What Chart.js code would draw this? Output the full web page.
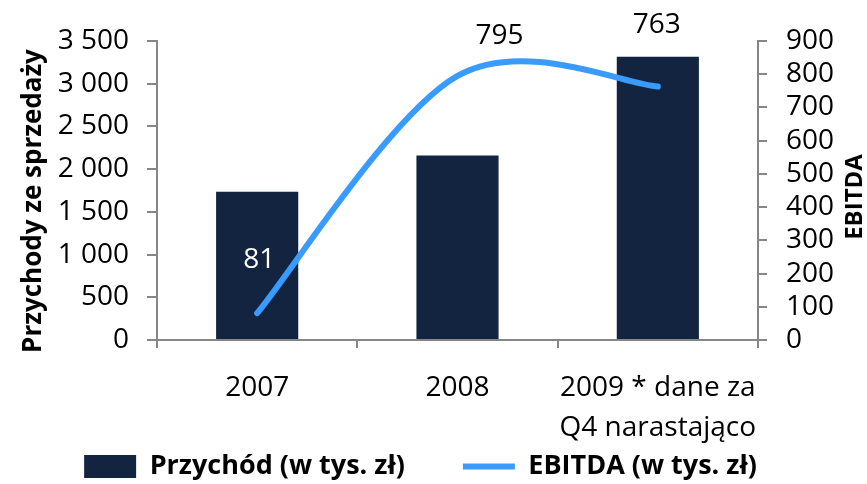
<!DOCTYPE html>
<html>
<head>
<meta charset="utf-8">
<script src="https://cdn.jsdelivr.net/npm/chart.js@4/dist/chart.umd.min.js"></script>
<style>
  html, body { margin: 0; background: #fff; }
  #wrap { width: 867px; height: 484px; }
</style>
</head>
<body>
<div id="wrap"><canvas id="c"></canvas></div>
<script>
const categories = ["2007", "2008", ["2009 * dane za", "Q4 narastająco"]];
const revenue = [1735, 2160, 3315];
const ebitda = [81, 795, 763];
const revenueTicks = [0, 500, 1000, 1500, 2000, 2500, 3000, 3500];
const ebitdaTicks = [0, 100, 200, 300, 400, 500, 600, 700, 800, 900];

const FONT = "'Open Sans', sans-serif";
const AXIS = "#868686";

function fmt(v) {
  return String(v).replace(/\B(?=(\d{3})+(?!\d))/g, " ");
}

// Excel-like smoothing: control points at +-(next - prev) / 6
const excelSmooth = {
  id: "excelSmooth",
  beforeDatasetDraw(chart, args) {
    const meta = args.meta;
    if (meta.type !== "line") return;
    meta.dataset.updateControlPoints(chart.chartArea, "x");
    const pts = meta.data;
    pts.forEach((p, i) => {
      const prev = pts[Math.max(i - 1, 0)];
      const next = pts[Math.min(i + 1, pts.length - 1)];
      const dx = (next.x - prev.x) / 6;
      const dy = (next.y - prev.y) / 6;
      p.cp1x = p.x - dx; p.cp1y = p.y - dy;
      p.cp2x = p.x + dx; p.cp2y = p.y + dy;
    });
    meta.dataset._path = undefined;
  }
};

// the two-line category label runs below the x scale box, so don't clip it
const xLabelRoom = {
  id: "xLabelRoom",
  afterLayout(chart) {
    chart.scales.x.bottom = chart.height;
  }
};

// value labels next to the EBITDA points, placed like in the original
const valueLabels = {
  id: "valueLabels",
  afterDatasetsDraw(chart) {
    const offsets = [[2, -53], [42, -40], [-1, -61]];
    const colors = ["#fff", "#000", "#000"];
    const meta = chart.getDatasetMeta(1);
    const ctx = chart.ctx;
    ctx.save();
    ctx.font = "28px " + FONT;
    ctx.textAlign = "center";
    ctx.textBaseline = "middle";
    meta.data.forEach((pt, i) => {
      ctx.fillStyle = colors[i];
      ctx.fillText(String(ebitda[i]), pt.x + offsets[i][0], pt.y + offsets[i][1]);
    });
    ctx.restore();
  }
};

// both axis titles read bottom to top
const axisTitles = {
  id: "axisTitles",
  afterDraw(chart) {
    const ctx = chart.ctx;
    ctx.save();
    ctx.fillStyle = "#000";
    ctx.textAlign = "center";
    ctx.textBaseline = "middle";
    [["Przychody ze sprzedaży", 34, 201, 26], ["EBITDA", 855, 197, 24]].forEach(([t, x, y, size]) => {
      ctx.save();
      ctx.font = "bold " + size + "px " + FONT;
      ctx.translate(x, y);
      ctx.rotate(-Math.PI / 2);
      ctx.fillText(t, 0, 0);
      ctx.restore();
    });
    ctx.restore();
  }
};

new Chart(document.getElementById("c"), {
  data: {
    labels: categories,
    datasets: [
      {
        type: "bar",
        label: "Przychód (w tys. zł)",
        data: revenue,
        yAxisID: "y",
        backgroundColor: "#12243f",
        barPercentage: 0.41,
        categoryPercentage: 1,
        pointStyle: "rect",
        order: 1
      },
      {
        type: "line",
        label: "EBITDA (w tys. zł)",
        data: ebitda,
        yAxisID: "y1",
        borderColor: "#3a9bff",
        backgroundColor: "#3a9bff",
        borderWidth: 6,
        borderCapStyle: "round",
        tension: 0.4,
        pointRadius: 0,
        pointStyle: "line",
        order: 0
      }
    ]
  },
  options: {
    responsive: true,
    maintainAspectRatio: false,
    animation: false,
    layout: { padding: { top: 41, left: 0, right: 26, bottom: -6 } },
    plugins: {
      tooltip: { enabled: false },
      legend: {
        position: "bottom",
        labels: {
          usePointStyle: true,
          pointStyleWidth: 52,
          boxHeight: 23,
          padding: 58,
          color: "#000",
          font: { family: FONT, size: 27, weight: "bold" },
          sort: (a, b) => a.datasetIndex - b.datasetIndex
        }
      }
    },
    scales: {
      x: {
        grid: { offset: true, drawOnChartArea: false, tickLength: 8, color: AXIS, lineWidth: 2 },
        border: { color: AXIS, width: 2 },
        ticks: {
          color: "#000",
          padding: 20,
          maxRotation: 0,
          autoSkip: false,
          font: { family: FONT, size: 28, lineHeight: 1.43 }
        },
        afterFit: (s) => { s.height = 55; }
      },
      y: {
        position: "left",
        min: 0,
        max: 3500,
        afterBuildTicks: (s) => { s.ticks = revenueTicks.map((v) => ({ value: v })); },
        grid: { drawOnChartArea: false, tickLength: 10, color: AXIS, lineWidth: 2 },
        border: { color: AXIS, width: 2 },
        ticks: { color: "#000", padding: 18, autoSkip: false, callback: fmt, font: { family: FONT, size: 28 } },
        afterFit: (s) => { s.width = 157; }
      },
      y1: {
        position: "right",
        min: 0,
        max: 900,
        afterBuildTicks: (s) => { s.ticks = ebitdaTicks.map((v) => ({ value: v })); },
        grid: { drawOnChartArea: false, tickLength: 9, color: AXIS, lineWidth: 2 },
        border: { color: AXIS, width: 2 },
        ticks: { color: "#000", padding: 19, autoSkip: false, callback: fmt, font: { family: FONT, size: 28 } },
        afterFit: (s) => { s.width = 83; }
      }
    }
  },
  plugins: [excelSmooth, xLabelRoom, valueLabels, axisTitles]
});
</script>
</body>
</html>
